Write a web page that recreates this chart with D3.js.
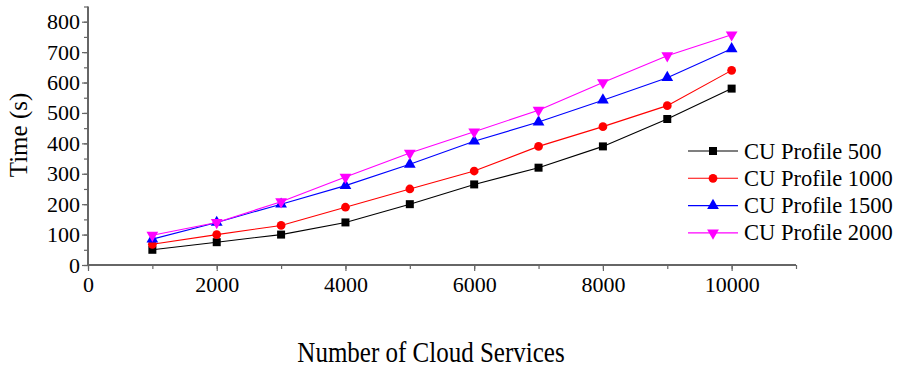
<!DOCTYPE html>
<html>
<head>
<meta charset="utf-8">
<script src="https://cdn.jsdelivr.net/npm/d3@7"></script>
<style>
  body { margin: 0; background: #fff; }
  svg { display: block; }
  svg text { font-family: "Liberation Serif", "Times New Roman", Times, "DejaVu Serif", serif; fill: #000; }
</style>
</head>
<body>
<svg id="chart" width="899" height="367"></svg>
<script>
// Number of cloud services on the x axis
const services = [1000, 2000, 3000, 4000, 5000, 6000, 7000, 8000, 9000, 10000];

// Execution time (s) per CU profile
const profile500  = [50, 75, 100, 140, 200, 265, 320, 390, 480, 580];
const profile1000 = [68, 100, 130, 190, 250, 309, 390, 455, 524, 640];
const profile1500 = [85, 140, 200, 261, 331, 407, 470, 542, 616, 711];
const profile2000 = [98, 140, 208, 289, 368, 438, 509, 600, 688, 757];

const seriesNames = ["CU Profile 500", "CU Profile 1000", "CU Profile 1500", "CU Profile 2000"];
const xTickValues = [0, 2000, 4000, 6000, 8000, 10000];
const yTickValues = [0, 100, 200, 300, 400, 500, 600, 700, 800];

const series = [
  { name: seriesNames[0], values: profile500,  color: "#000000", symbol: d3.symbolSquare,   size: 64 },
  { name: seriesNames[1], values: profile1000, color: "#ff0000", symbol: d3.symbolCircle,   size: 60 },
  { name: seriesNames[2], values: profile1500, color: "#0000ff", symbol: d3.symbolTriangle, size: 60 },
  { name: seriesNames[3], values: profile2000, color: "#ff00ff", symbol: d3.symbolTriangle, size: 60, flip: true }
];

const svg = d3.select("#chart");
const plotLeft = 88, plotRight = 796, plotTop = 6.5, plotBottom = 265;

const x = d3.scaleLinear().domain([0, 11000]).range([plotLeft, plotRight]);
const y = d3.scaleLinear().domain([0, 850]).range([plotBottom, plotTop]);

const axisColor = "#666";

// x axis: major ticks every 2000, minor every 1000
const xAxis = svg.append("g").attr("transform", `translate(0,${plotBottom})`);
xAxis.append("g")
  .call(d3.axisBottom(x).tickValues(d3.range(0, 11001, 1000)).tickSize(4).tickFormat(""))
  .call(g => g.select(".domain").remove());
xAxis.append("g")
  .call(d3.axisBottom(x).tickValues(xTickValues).tickSize(6).tickPadding(5).tickFormat(d3.format("d")))
  .call(g => g.select(".domain").remove())
  .call(g => g.attr("font-family", null).attr("font-size", 22));
xAxis.selectAll("line").attr("stroke", axisColor).attr("stroke-width", 1.2);
xAxis.append("line").attr("x1", plotLeft).attr("x2", plotRight).attr("stroke", axisColor).attr("stroke-width", 2);

// y axis: major ticks every 100, minor every 50
const yAxis = svg.append("g").attr("transform", `translate(${plotLeft},0)`);
yAxis.append("g")
  .call(d3.axisLeft(y).tickValues(d3.range(0, 851, 50)).tickSize(4).tickFormat(""))
  .call(g => g.select(".domain").remove());
yAxis.append("g")
  .call(d3.axisLeft(y).tickValues(yTickValues).tickSize(6).tickPadding(2).tickFormat(d3.format("d")))
  .call(g => g.select(".domain").remove())
  .call(g => g.attr("font-family", null).attr("font-size", 22));
yAxis.selectAll("line").attr("stroke", axisColor).attr("stroke-width", 1.2);
yAxis.append("line").attr("y1", plotTop).attr("y2", plotBottom).attr("stroke", axisColor).attr("stroke-width", 2);

// Axis titles
svg.append("text")
  .attr("transform", "translate(431,362) scale(1,1.15)")
  .attr("text-anchor", "middle")
  .attr("font-size", 25)
  .text("Number of Cloud Services");

svg.append("text")
  .attr("transform", "translate(27,135) rotate(-90)")
  .attr("text-anchor", "middle")
  .attr("font-size", 25)
  .text("Time (s)");

// Lines and markers
const line = d3.line().x((d, i) => x(services[i])).y(d => y(d));
series.forEach(s => {
  const g = svg.append("g");
  g.append("path")
    .attr("d", line(s.values))
    .attr("fill", "none")
    .attr("stroke", s.color)
    .attr("stroke-width", 1.1);
  g.selectAll("path.mark")
    .data(s.values)
    .join("path")
    .attr("class", "mark")
    .attr("d", d3.symbol().type(s.symbol).size(s.size))
    .attr("transform", (d, i) => `translate(${x(services[i])},${y(d)})${s.flip ? " rotate(180)" : ""}`)
    .attr("fill", s.color);
});

// Legend
const legend = svg.append("g").attr("transform", "translate(688,151)");
series.forEach((s, i) => {
  const row = legend.append("g").attr("transform", `translate(0,${i * 27.3})`);
  row.append("line").attr("x1", 0).attr("x2", 50).attr("stroke", s.color).attr("stroke-width", 1.1);
  row.append("path")
    .attr("d", d3.symbol().type(s.symbol).size(s.size))
    .attr("transform", `translate(25,0)${s.flip ? " rotate(180)" : ""}`)
    .attr("fill", s.color);
  row.append("text")
    .attr("x", 56).attr("y", 7.5)
    .attr("font-size", 22.5)
    .text(s.name);
});
</script>
</body>
</html>
